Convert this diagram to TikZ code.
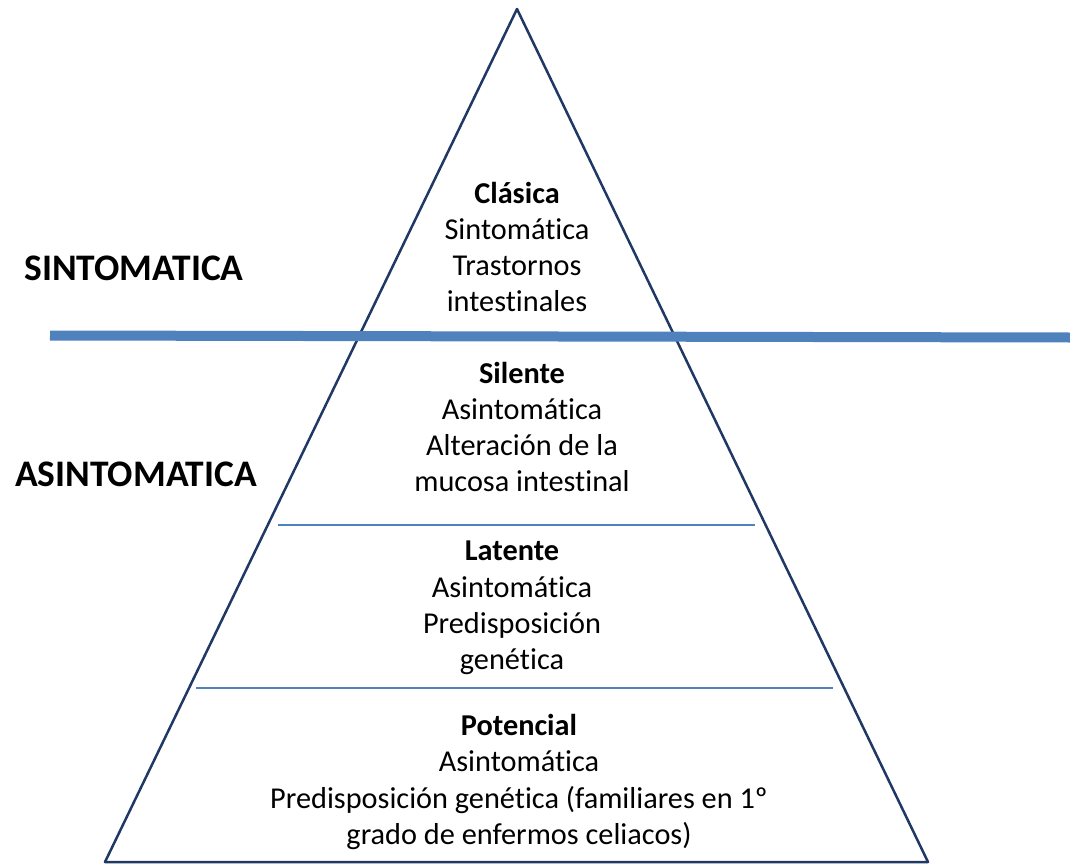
\documentclass[tikz,border=0pt]{standalone}
\usepackage{fontspec}
\setmainfont{Carlito}[Ligatures={NoCommon}]
\usepackage{tikz}
\usetikzlibrary{calc}
\definecolor{navy}{RGB}{31,56,100}
\definecolor{steel}{RGB}{79,129,189}
\tikzset{
  level/.style={align=center,font={\fontsize{30.3}{36.3}\selectfont}},
  side/.style={font={\fontsize{37.5}{42}\selectfont\bfseries}}
}
\begin{document}
\begin{tikzpicture}[x=1pt,y=-1pt,line join=round]
  \useasboundingbox (0,0) rectangle (1070,864);
  \coordinate (apex) at (517,9); \coordinate (baseL) at (105,862); \coordinate (baseR) at (928,862);
  \draw[navy,line width=2.5pt] (apex) -- (baseR) -- (baseL) -- cycle;
  % divisions
  \coordinate (divL) at (50,335.5); \coordinate (divR) at (1070,337.5);
  \draw[steel,line width=10pt] (divL) -- (divR);
  \coordinate (s1L) at (278,525); \coordinate (s1R) at (755,525);
  \coordinate (s2L) at (196,688); \coordinate (s2R) at (833,688);
  \foreach \a/\b in {s1L/s1R,s2L/s2R} \draw[steel,line width=1.3pt] (\a) -- (\b);
  % texts
  \node[level] (clasica) at (517,247) {\textbf{Clásica}\\Sintomática\\Trastornos\\intestinales};
  \node[level] (silente) at (522,427) {\textbf{Silente}\\Asintomática\\Alteración de la\\mucosa intestinal};
  \node[level] (latente) at (512,608) {\textbf{Latente}\\Asintomática\\Predisposición\\genética};
  \node[level] (potencial) at (519,782) {\textbf{Potencial}\\Asintomática\\Predisposición genética (familiares en 1º\\grado de enfermos celiacos)};
  \node[side] (sinto) at (134,268) {SINTOMATICA};
  \node[side] (asinto) at (136,474) {ASINTOMATICA};
\end{tikzpicture}
\end{document}
